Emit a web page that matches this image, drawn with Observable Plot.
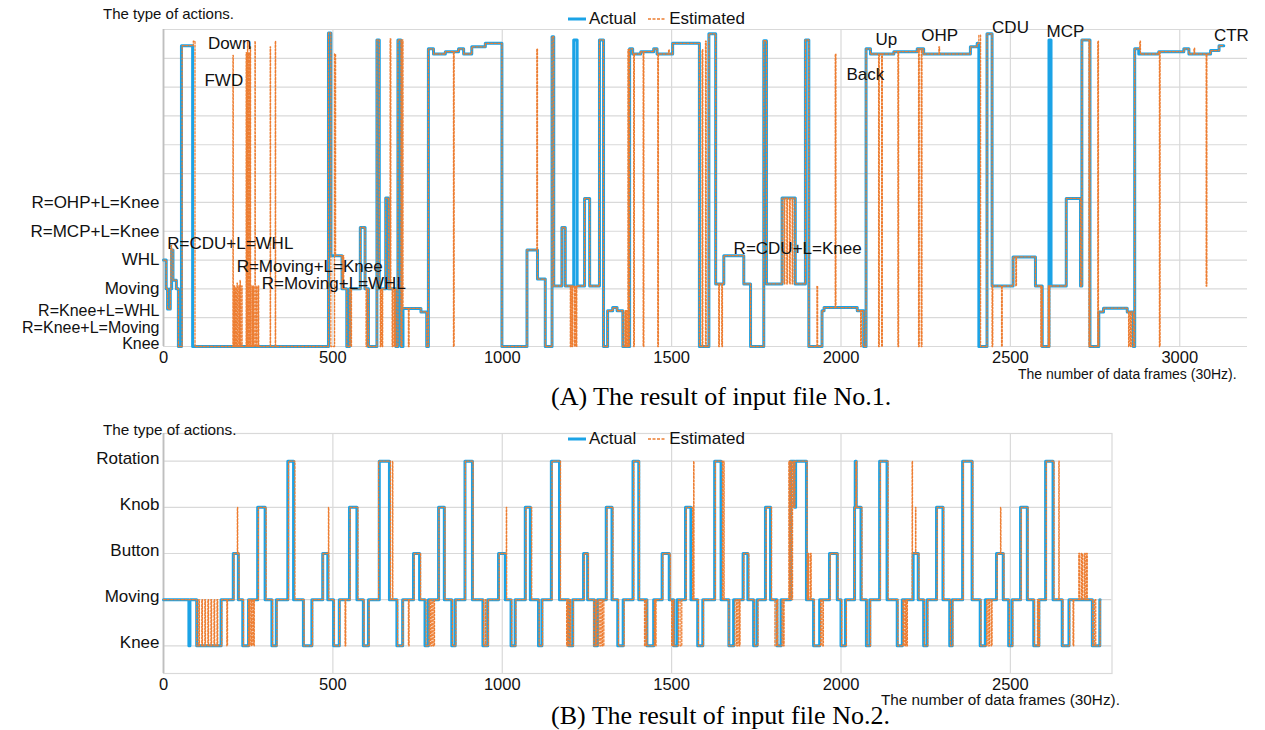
<!DOCTYPE html>
<html><head><meta charset="utf-8">
<script src="https://cdn.jsdelivr.net/npm/d3@7"></script>
<script src="https://cdn.jsdelivr.net/npm/@observablehq/plot@0.6"></script>
<style>
body{margin:0;background:#fff}
#root{position:relative;width:1265px;height:730px;font-family:"Liberation Sans",Arial,sans-serif;color:#111;overflow:hidden}
.abs{position:absolute;white-space:nowrap;line-height:1}
.legend{display:flex;align-items:center;font-size:17px}
.legend svg{margin-right:3px}
.caption{font-family:"Liberation Serif","Times New Roman",serif;font-size:26px;color:#000}
</style></head>
<body><div id="root">
<div id="chartA" class="abs" style="left:0;top:0;width:1265px"></div>
<div id="chartB" class="abs" style="left:0;top:410px;width:1265px"></div>

<div class="abs" style="left:103px;top:6px;font-size:15px">The type of actions.</div>
<div class="abs legend" style="left:568px;top:10px">
  <svg width="18" height="6"><line x1="0" x2="18" y1="3" y2="3" stroke="#1BA3E6" stroke-width="3"/></svg><span style="margin-right:12px">Actual</span>
  <svg width="18" height="6"><line x1="0" x2="18" y1="3" y2="3" stroke="#ED7D31" stroke-width="1.6" stroke-dasharray="3,1.5"/></svg><span>Estimated</span>
</div>
<div class="abs" style="left:1018px;top:367px;font-size:14px">The number of data frames (30Hz).</div>
<div class="abs caption" style="left:551px;top:384px">(A) The result of input file No.1.</div>

<div class="abs" style="left:103px;top:422px;font-size:15.3px">The type of actions.</div>
<div class="abs legend" style="left:568px;top:430px">
  <svg width="18" height="6"><line x1="0" x2="18" y1="3" y2="3" stroke="#1BA3E6" stroke-width="3"/></svg><span style="margin-right:12px">Actual</span>
  <svg width="18" height="6"><line x1="0" x2="18" y1="3" y2="3" stroke="#ED7D31" stroke-width="1.6" stroke-dasharray="3,1.5"/></svg><span>Estimated</span>
</div>
<div class="abs" style="left:881px;top:692px;font-size:15.3px">The number of data frames (30Hz).</div>
<div class="abs caption" style="left:551px;top:703px">(B) The result of input file No.2.</div>
</div>
<script>
// ---------- Chart A data ----------
const xTicksA = [0, 500, 1000, 1500, 2000, 2500, 3000];
const gridLevelsA = [0,1,2,3,4,5,6,7,8,9,10,11];
const yLabelsA = ["Knee","R=Knee+L=Moving","R=Knee+L=WHL","Moving","WHL","R=MCP+L=Knee","R=OHP+L=Knee"];
const yLabelLevelsA = [0.1, 0.66, 1.24, 2, 3, 4, 5];

const noteLabelsA = ["Down","FWD","R=CDU+L=WHL","R=Moving+L=Knee","R=Moving+L=WHL","R=CDU+L=Knee","Back","Up","OHP","CDU","MCP","CTR"];
const noteFramesA = [131, 121, 11, 216, 290, 1683, 2016, 2102, 2237, 2446, 2607, 3101];
const noteLevelsA = [10.5, 9.23, 3.56, 2.78, 2.18, 3.40, 9.43, 10.64, 10.79, 11.08, 10.94, 10.79];

// [frame, level] change points (step after)
const actualA = [
[0,3.0],[8,2.0],[12,1.3],[20,2.0],[24,3.35],[28,2.3],[38,2.0],[44,0],[53,10.44],[86,0],
[487,10.88],[494,3.15],[527,2.0],[541,0],[549,2.0],[581,4.13],[595,2.0],[605,0],[630,10.64],[637,2.0],[656,5.15],[664,2.0],[686,0],[692,10.64],[701,0],[707,1.32],[760,1.2],[777,0],
[782,10.33],[797,10.15],[832,10.23],[871,10.33],[886,10.15],[910,10.4],[950,10.52],[999,0],
[1073,3.35],[1104,2.34],[1127,0],[1147,10.75],[1152,2.1],[1176,4.13],[1186,2.1],[1211,10.64],[1221,2.1],[1243,5.14],[1258,2.1],[1287,10.64],[1299,0],
[1311,1.24],[1326,1.35],[1339,1.24],[1356,0],
[1376,10.33],[1385,10.15],[1409,10.23],[1447,10.33],[1457,10.15],[1503,10.52],[1582,0],
[1610,10.85],[1630,2.17],[1654,3.15],[1713,2.17],[1733,0],[1772,10.61],[1780,2.17],[1826,5.15],[1865,2.17],[1895,10.64],[1905,0],
[1944,1.24],[1950,1.35],[2048,1.24],[2067,0],
[2074,10.33],[2087,10.15],[2156,10.23],[2225,10.33],[2244,10.15],[2382,10.4],[2402,10.52],[2407,0],
[2431,10.85],[2446,2.1],[2508,3.11],[2574,2.1],[2594,0],[2614,10.64],[2620,2.1],[2665,5.14],[2707,2.1],[2711,10.64],[2735,0],
[2761,1.2],[2775,1.33],[2845,1.2],[2863,0],
[2867,10.33],[2879,10.15],[2938,10.23],[3012,10.33],[3027,10.15],[3091,10.27],[3116,10.44],[3130,10.44]
];

const estimatedA = [
[0,3.0],[8,2.0],[12,1.3],[20,2.0],[22,3.5],[24,3.35],[28,2.3],[38,2.0],[44,0],[55,10.44],[88,10.6],[93,0],
[205,10.1],[206,0],[209,2.1],[210,0],[213,2.05],[214,0],[217,2.2],[218,0],[222,2.1],[223,0],[226,2.3],[227,0],[231,2.1],[232,0],
[244,10.2],[245,0],[248,10.6],[249,0],[252,10.2],[253,0],[256,10.4],[257,0],[261,2.1],[262,0],[265,2.1],[266,0],[270,10.6],[271,0],[275,2.1],[276,0],[280,2.1],[281,0],
[315,10.4],[316,0],[330,10.6],[331,0],
[487,10.88],[494,0],[505,10.15],[508,3.15],[527,2.0],[530,3.15],[532,2.0],[541,0],[549,2.0],[553,0],[555,2.0],[581,4.13],[595,2.0],[598,0],[600,2.0],[605,0],[630,10.64],[637,2.0],[640,0],[642,2.0],[645,0],[647,2.0],[656,5.15],[664,2.0],[669,10.67],[671,2.0],[675,0],[677,2.0],[681,0],[683,2.0],[686,0],[692,10.64],[701,0],[704,10.64],[707,1.32],[723,0],[725,1.32],[760,1.2],[777,0],
[782,10.33],[797,10.15],[832,10.23],[856,0],[858,10.23],[871,10.33],[886,10.15],[910,10.4],[950,10.52],[999,0],
[1073,3.35],[1102,10.33],[1104,2.34],[1127,0],[1147,10.75],[1152,2.1],[1176,4.13],[1186,2.1],[1201,0],[1203,2.1],[1206,0],[1208,2.1],[1213,0],[1215,2.1],[1218,0],[1220,2.1],[1243,5.14],[1258,2.1],[1287,10.64],[1299,0],
[1311,1.24],[1326,1.35],[1339,1.24],[1356,0],[1362,1.24],[1364,0],[1366,1.24],[1368,0],[1371,10.3],[1373,0],
[1376,10.33],[1385,10.15],[1388,0],[1390,10.15],[1409,10.23],[1416,0],[1418,10.23],[1447,10.33],[1457,10.15],[1459,0],[1461,10.15],[1491,10.3],[1493,10.15],[1503,10.52],[1582,0],[1590,10.3],[1592,0],[1600,10.6],[1602,0],
[1610,10.85],[1630,2.17],[1639,0],[1641,2.17],[1648,0],[1650,2.17],[1654,3.15],[1713,2.17],[1733,0],[1772,10.61],[1780,2.17],
[1826,5.15],[1832,2.17],[1834,5.15],[1840,2.17],[1842,5.15],[1848,2.17],[1850,5.15],[1856,2.17],[1858,5.15],[1865,2.17],[1895,10.64],[1905,0],[1929,2.1],[1931,0],
[1944,1.24],[1950,1.35],[1983,10.15],[1985,1.35],[2048,1.24],[2058,0],[2060,1.24],[2067,0],
[2074,10.33],[2087,10.15],[2111,0],[2113,10.15],[2120,0],[2122,10.15],[2156,10.23],[2168,0],[2170,10.23],[2225,10.33],[2229,0],[2231,10.33],[2237,0],[2239,10.33],[2244,10.15],[2289,10.4],[2291,10.15],[2382,10.4],[2402,10.52],[2407,10.8],[2412,0],
[2431,10.85],[2446,0],[2448,2.1],[2474,0],[2476,2.1],[2508,3.11],[2516,2.1],[2518,3.11],[2574,2.1],[2590,0],[2592,2.1],[2594,0],[2612,2.1],[2614,0],[2616,2.1],
[2665,5.14],[2707,2.1],[2711,10.64],[2732,0],[2734,10.64],[2735,0],[2758,10.6],[2760,0],[2761,1.2],[2775,1.33],[2845,1.2],[2849,0],[2851,1.2],[2855,0],[2857,1.2],[2863,0],
[2867,10.33],[2882,10.6],[2884,10.15],[2938,10.23],[2940,0],[2942,10.23],[3012,10.33],[3027,10.15],[3042,10.35],[3044,10.15],[3078,2.1],[3080,10.15],[3091,10.27],[3116,10.44],[3130,10.44]
];

// ---------- Chart B data ----------
const xTicksB = [0, 500, 1000, 1500, 2000, 2500];
const categoriesB = ["Knee","Moving","Button","Knob","Rotation"];
const levelsB = [0, 1, 2, 3, 4];

const actualB = [
[0,1],[75,0],[78,1],[98,0],[170,1],[206,2],[221,1],[234,0],[251,1],[278,3],[300,1],[320,0],[333,1],[367,4],[384,1],[413,0],[438,1],[470,2],[485,1],[502,0],[519,1],[549,3],[571,1],[590,0],[605,1],[637,4],[667,1],[689,0],[706,1],[738,2],[756,1],[772,0],[782,1],[812,3],[829,1],[851,0],[861,1],[890,4],[912,1],
[943,0],[957,1],[989,2],[1009,1],[1026,0],[1038,1],[1068,3],[1083,1],[1107,0],[1117,1],[1145,4],[1169,1],[1196,0],[1208,1],[1240,2],[1252,1],[1272,0],[1281,1],[1307,3],[1324,1],[1341,0],[1357,1],[1386,4],[1403,1],[1427,0],[1447,1],[1472,2],[1493,1],[1506,0],[1516,1],[1541,3],[1557,1],[1577,0],[1592,1],[1627,4],[1646,1],[1669,0],[1683,1],[1711,2],[1725,1],[1742,0],[1752,1],[1777,3],[1792,1],[1811,0],[1823,1],
[1851,4],[1863,3],[1866,4],[1898,1],[1919,0],[1937,1],[1966,2],[1989,1],[2000,0],[2013,1],[2040,3],[2042,4],[2045,3],[2059,1],[2075,0],[2085,1],[2114,4],[2136,1],[2166,0],[2181,1],[2213,2],[2228,1],[2244,0],[2254,1],[2282,3],[2301,1],[2321,0],[2328,1],[2359,4],[2387,1],[2411,0],[2426,1],[2459,2],[2479,1],[2495,0],[2505,1],[2530,3],[2550,1],[2569,0],[2584,1],[2604,4],[2626,1],[2653,0],[2673,1],[2742,0],[2764,1],[2765,1]
];

const estimatedB = [
[0,1],[98,0],[104,1],[106,0],[113,1],[115,0],[122,1],[124,0],[131,1],[133,0],[140,1],[142,0],[149,1],[151,0],[158,1],[160,0],
[172,1],[187,0],[189,1],[208,2],[218,3],[219,2],[223,1],[236,0],[251,1],[254,0],[256,1],[260,0],[262,1],[266,0],[268,1],
[280,3],[303,1],[322,0],[335,1],[369,4],[388,1],[415,0],[440,1],[471,2],[487,3],[488,1],[504,0],[520,1],[536,0],[538,1],
[551,3],[574,1],[592,0],[607,1],[635,4],[670,1],[676,4],[677,1],[691,0],[707,1],[723,0],[725,1],[740,2],[759,1],
[775,0],[784,1],[788,0],[792,1],[796,0],[800,1],[813,3],[831,1],[853,0],[863,1],[891,4],[914,1],
[945,0],[950,1],[952,0],[959,1],[991,2],[1012,3],[1013,1],[1028,0],[1040,1],[1070,3],[1087,1],[1109,0],[1119,1],[1147,4],[1172,1],
[1190,0],[1193,1],[1196,0],[1200,1],[1202,0],[1210,1],[1242,2],[1254,1],[1270,0],[1275,1],[1278,0],[1283,1],[1288,0],[1292,1],[1296,0],[1300,1],
[1309,3],[1327,1],[1343,0],[1360,1],[1388,4],[1405,1],[1420,0],[1424,1],[1427,0],[1449,1],[1452,0],[1454,1],[1474,2],[1496,1],
[1500,0],[1504,1],[1507,0],[1520,1],[1525,0],[1530,1],[1543,3],[1562,1],[1565,4],[1566,1],[1579,0],[1594,1],[1629,4],[1650,1],[1654,4],[1655,1],
[1669,0],[1687,1],[1692,0],[1696,1],[1700,0],[1702,1],[1713,2],[1728,1],[1744,0],[1755,1],[1779,3],[1795,1],
[1805,0],[1810,1],[1813,0],[1826,1],[1830,0],[1832,1],[1846,4],[1849,1],[1851,4],[1855,1],[1857,4],[1861,3],[1864,4],[1900,1],[1903,2],[1905,1],[1910,2],[1912,1],
[1921,0],[1940,1],[1944,0],[1948,1],[1968,2],[1991,1],[2002,0],[2016,1],[2040,3],[2044,4],[2046,3],[2062,1],[2077,0],[2087,1],[2116,4],[2139,1],
[2168,0],[2183,1],[2186,0],[2190,1],[2193,0],[2196,1],[2210,4],[2211,2],[2220,3],[2221,2],[2230,1],[2246,0],[2256,1],[2284,3],[2303,1],[2323,0],[2330,1],[2361,4],[2389,1],
[2413,0],[2430,1],[2434,0],[2438,1],[2443,0],[2446,1],[2461,2],[2471,3],[2472,2],[2481,1],[2497,0],[2507,1],[2532,3],[2552,1],[2571,0],[2580,1],[2583,0],[2586,1],
[2606,4],[2629,1],[2643,4],[2644,1],[2655,0],[2675,1],[2685,0],[2687,1],[2702,2],[2705,1],[2710,2],[2713,1],[2718,2],[2721,1],[2725,2],[2727,1],[2743,0],[2748,1],[2752,0],[2765,1]
];

// ---------- drawing ----------
const BLUE = "#1BA3E6", ORANGE = "#ED7D31", GRID = "#D9D9D9", AXIS = "#BFBFBF";
const FONT = "'Liberation Sans', Arial, sans-serif";
const notesA = noteLabelsA.map((label, i) => ({label, frame: noteFramesA[i], level: noteLevelsA[i]}));
const smallLabelsA = new Set(["Knee","R=Knee+L=Moving","R=Knee+L=WHL"]);

const chartA = Plot.plot({
  width: 1265, height: 380,
  marginTop: 29, marginBottom: 34, marginLeft: 163, marginRight: 18,
  x: {domain: [0, 3200]},
  y: {domain: [0, 11]},
  style: {fontFamily: FONT, fontSize: "17px", color: "#111", background: "transparent"},
  marks: [
    Plot.gridY(gridLevelsA, {stroke: GRID, strokeOpacity: 1, strokeWidth: 1.2}),
    Plot.gridX(xTicksA, {stroke: GRID, strokeOpacity: 1, strokeWidth: 1.2}),
    Plot.ruleX([0], {stroke: AXIS, strokeWidth: 1.8}),
    Plot.axisX(xTicksA, {tickSize: 0, tickPadding: 5, fontSize: 16.5, label: null, tickFormat: d => String(d)}),
    Plot.axisY(yLabelLevelsA.slice(3), {tickSize: 0, tickPadding: 4, fontSize: 17, label: null,
      tickFormat: v => yLabelsA[yLabelLevelsA.indexOf(v)]}),
    Plot.axisY(yLabelLevelsA.slice(0, 3), {tickSize: 0, tickPadding: 4, fontSize: 16, label: null,
      tickFormat: v => yLabelsA[yLabelLevelsA.indexOf(v)]}),
    Plot.line(actualA, {x: d => d[0], y: d => d[1], curve: "step-after", stroke: BLUE, strokeWidth: 3, strokeLinejoin: "round"}),
    Plot.line(estimatedA, {x: d => d[0], y: d => d[1], curve: "step-after", stroke: ORANGE, strokeWidth: 1.3, strokeDasharray: "2,1.6"}),
    Plot.text(notesA, {x: "frame", y: "level", text: "label", textAnchor: "start", fontSize: 17, fill: "#111"})
  ]
});
document.getElementById("chartA").appendChild(chartA);

const chartB = Plot.plot({
  width: 1265, height: 290,
  marginTop: 23, marginBottom: 27, marginLeft: 163, marginRight: 153.5,
  x: {domain: [0, 2800]},
  y: {domain: [-0.6, 4.6]},
  style: {fontFamily: FONT, fontSize: "17px", color: "#111", background: "transparent"},
  marks: [
    Plot.frame({stroke: GRID, strokeWidth: 1.2}),
    Plot.gridY(levelsB, {stroke: GRID, strokeOpacity: 1, strokeWidth: 1.2}),
    Plot.gridX(xTicksB, {stroke: GRID, strokeOpacity: 1, strokeWidth: 1.2}),
    Plot.ruleX([0], {stroke: AXIS, strokeWidth: 1.8}),
    Plot.axisX(xTicksB, {tickSize: 0, tickPadding: 5, fontSize: 16.5, label: null, tickFormat: d => String(d)}),
    Plot.axisY(levelsB, {tickSize: 0, tickPadding: 4, fontSize: 17, dy: -3, label: null,
      tickFormat: v => categoriesB[levelsB.indexOf(v)]}),
    Plot.line(actualB, {x: d => d[0], y: d => d[1], curve: "step-after", stroke: BLUE, strokeWidth: 3, strokeLinejoin: "round"}),
    Plot.line(estimatedB, {x: d => d[0], y: d => d[1], curve: "step-after", stroke: ORANGE, strokeWidth: 1.3, strokeDasharray: "2,1.6"})
  ]
});
document.getElementById("chartB").appendChild(chartB);
</script>
</body></html>
